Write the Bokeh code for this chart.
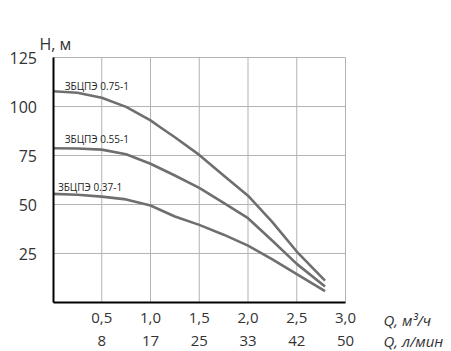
from bokeh.plotting import figure
from bokeh.models import FixedTicker, LinearAxis, Label, Range1d
from bokeh.embed import file_html
from bokeh.resources import INLINE

# Flow Q (m3/h) and head H (m) for each pump
q_075 = [0, 0.25, 0.5, 0.75, 1.0, 1.1, 1.25, 1.5, 1.75, 2.0, 2.25, 2.5, 2.79]
h_075 = [107.8, 107, 104.5, 99.8, 92.9, 89.4, 84.3, 75.3, 64.8, 54.5, 41, 26, 11.2]

q_055 = [0, 0.25, 0.5, 0.75, 1.0, 1.25, 1.5, 1.75, 2.0, 2.25, 2.5, 2.79]
h_055 = [78.7, 78.6, 78, 75.6, 70.8, 64.8, 58.5, 50.8, 43, 31.5, 19.7, 8.2]

q_037 = [0, 0.25, 0.5, 0.75, 1.0, 1.25, 1.5, 1.75, 2.0, 2.25, 2.5, 2.79]
h_037 = [55.4, 55, 54, 52.6, 49.5, 43.9, 39.6, 34.6, 29, 22, 14.5, 5.8]

series_names = ["ЗБЦПЭ 0.75-1", "ЗБЦПЭ 0.55-1", "ЗБЦПЭ 0.37-1"]

x_ticks = [0.5, 1.0, 1.5, 2.0, 2.5, 3.0]
x_labels_m3h = ["0,5", "1,0", "1,5", "2,0", "2,5", "3,0"]
x_labels_lmin = ["8", "17", "25", "33", "42", "50"]
y_ticks = [25, 50, 75, 100, 125]

FONT = "Open Sans"
TXT = "#333333"
CURVE = "#6f6f6f"
GRID = "#b3b3b3"

W, H = 451, 351
X0_PX, Y0_PX = 52.5, 302.0      # pixel position of the origin
PX_PER_Q, PX_PER_H = 97.5, 1.96  # pixels per unit

x_max = x_ticks[-1]
y_max = y_ticks[-1]

# the frame covers the whole canvas so that every text stays visible
p = figure(width=W, height=H, output_backend="svg", toolbar_location=None,
           x_range=Range1d(-X0_PX / PX_PER_Q, (W - X0_PX) / PX_PER_Q),
           y_range=Range1d(-(H - Y0_PX) / PX_PER_H, Y0_PX / PX_PER_H),
           min_border=0, x_axis_location=None, y_axis_location=None)
p.outline_line_color = None
p.background_fill_color = "white"
p.border_fill_color = "white"
p.grid.visible = False

# grid lines, drawn only inside the chart area
p.segment(x0=x_ticks, y0=[0] * len(x_ticks), x1=x_ticks, y1=[y_max] * len(x_ticks),
          line_color=GRID, line_width=1)
p.segment(x0=[0] * len(y_ticks), y0=y_ticks, x1=[x_max] * len(y_ticks), y1=y_ticks,
          line_color=GRID, line_width=1)

# curves
for q, h in ((q_075, h_075), (q_055, h_055), (q_037, h_037)):
    p.line(q, h, line_color=CURVE, line_width=2.6, line_join="round")

# y axis
yax = LinearAxis(ticker=FixedTicker(ticks=y_ticks), fixed_location=0, bounds=(0, y_max))
yax.axis_line_color = "black"
yax.axis_line_width = 2
yax.major_tick_line_color = None
yax.minor_tick_line_color = None
yax.major_label_standoff = 10
yax.major_label_text_font = FONT
yax.major_label_text_font_size = "16px"
yax.major_label_text_color = TXT
p.add_layout(yax, "left")

# x axis (m3/h)
xax = LinearAxis(ticker=FixedTicker(ticks=x_ticks), fixed_location=0, bounds=(0, x_max),
                 major_label_overrides=dict(zip(x_ticks, x_labels_m3h)))
xax.axis_line_color = "black"
xax.axis_line_width = 2
xax.major_tick_line_color = None
xax.minor_tick_line_color = None
xax.major_label_standoff = 4
xax.major_label_text_font = FONT
xax.major_label_text_font_size = "15px"
xax.major_label_text_color = TXT
p.add_layout(xax, "below")

# x axis (l/min)
xax2 = LinearAxis(ticker=FixedTicker(ticks=x_ticks), fixed_location=0,
                  major_label_overrides=dict(zip(x_ticks, x_labels_lmin)))
xax2.axis_line_color = None
xax2.major_tick_line_color = None
xax2.minor_tick_line_color = None
xax2.major_label_standoff = 27
xax2.major_label_text_font = FONT
xax2.major_label_text_font_size = "15px"
xax2.major_label_text_color = TXT
p.add_layout(xax2, "below")

# curve labels
for name, (lx, ly) in zip(series_names, [(0.12, 110.7), (0.12, 83.2), (0.05, 58.8)]):
    p.add_layout(Label(x=lx, y=ly, text=name, text_font=FONT, text_font_size="10px",
                       text_color="#222222", text_baseline="middle"))

# axis titles (screen units, measured from the bottom-left corner)
p.add_layout(Label(x=39, y=H - 43, x_units="screen", y_units="screen", text="H, м",
                   text_font=FONT, text_font_size="16px", text_color=TXT,
                   text_baseline="middle"))
p.add_layout(Label(x=383, y=H - 319, x_units="screen", y_units="screen", text="Q, м³/ч",
                   text_font=FONT, text_font_size="15px", text_font_style="italic",
                   text_color=TXT, text_baseline="middle"))
p.add_layout(Label(x=383, y=H - 340, x_units="screen", y_units="screen", text="Q, л/мин",
                   text_font=FONT, text_font_size="15px", text_font_style="italic",
                   text_color=TXT, text_baseline="middle"))

open("out.html", "w").write(file_html(p, INLINE))
